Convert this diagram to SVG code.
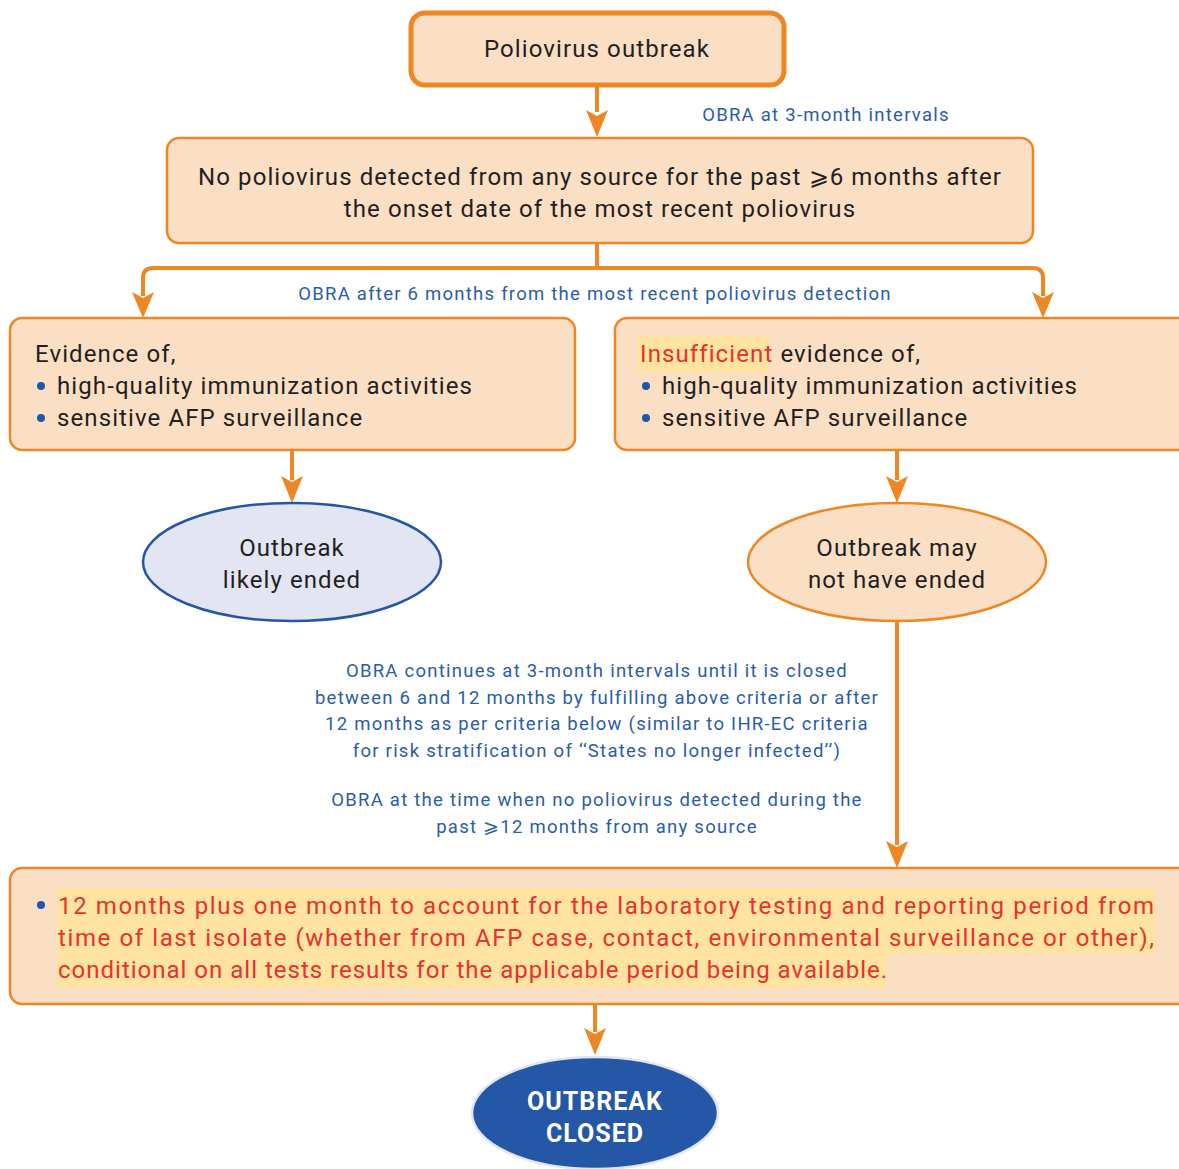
<svg xmlns="http://www.w3.org/2000/svg" width="1179" height="1169" viewBox="0 0 1179 1169">
<defs>
<style>
.box{fill:#FBDFC5;stroke:#EE8623;stroke-width:2.5}
.t{font-family:Roboto,"Liberation Sans",sans-serif;font-size:24px;fill:#231F20;letter-spacing:1.1px}
.tc{text-anchor:middle}
.b{font-family:Roboto,"Liberation Sans",sans-serif;font-size:18.5px;fill:#2A5CAA;letter-spacing:1.25px}
.r{font-family:Roboto,"Liberation Sans",sans-serif;font-size:24px;fill:#E8312F;letter-spacing:1px}
.dot{fill:#2457A5}
.ln{fill:none;stroke:#EE8623;stroke-width:4}
.hl{fill:#FFE3A1}
</style>
</defs>
<rect width="1179" height="1169" fill="#fff"/>
<g id="connectors">
<path class="ln" d="M597,86 V112" />
<path d="M586,110 L597,137 L608,110 L597,116 z" fill="#EE8623"/>
<path class="ln" d="M597,243 V268 M153,268 H1033 Q1043,268 1043,278 V296 M153,268 Q143,268 143,278 V296"/>
<path d="M132,292 L143,318 L154,292 L143,298 z" fill="#EE8623"/>
<path d="M1032,292 L1043,318 L1054,292 L1043,298 z" fill="#EE8623"/>
<path class="ln" d="M292,450 V480"/>
<path d="M281,476 L292,503 L303,476 L292,482 z" fill="#EE8623"/>
<path class="ln" d="M897,450 V480"/>
<path d="M886,476 L897,503 L908,476 L897,482 z" fill="#EE8623"/>
<path class="ln" d="M897,621 V845"/>
<path d="M886,841 L897,868 L908,841 L897,847 z" fill="#EE8623"/>
<path class="ln" d="M595,1004 V1032"/>
<path d="M584,1028 L595,1055 L606,1028 L595,1034 z" fill="#EE8623"/>
</g>
<g id="start">
<rect x="411" y="13" width="373" height="72" rx="14" class="box" style="stroke-width:5"/>
<text x="597" y="57" class="t tc">Poliovirus outbreak</text>
</g>
<text x="826" y="121" class="b tc">OBRA at 3-month intervals</text>
<g id="no-detect">
<rect x="167" y="138" width="866" height="105" rx="12" class="box"/>
<text x="600" y="185" class="t tc">No poliovirus detected from any source for the past ⩾6 months after</text>
<text x="600" y="217" class="t tc">the onset date of the most recent poliovirus</text>
</g>
<text x="595" y="300" class="b tc">OBRA after 6 months from the most recent poliovirus detection</text>
<g id="evidence">
<rect x="10" y="318" width="565" height="132" rx="12" class="box"/>
<text x="35" y="362" class="t">Evidence of,</text>
<circle cx="41" cy="386" r="4" class="dot"/>
<text x="57" y="394" class="t">high-quality immunization activities</text>
<circle cx="41" cy="418" r="4" class="dot"/>
<text x="57" y="426" class="t">sensitive AFP surveillance</text>
</g>
<g id="insufficient">
<rect x="615" y="318" width="575" height="132" rx="12" class="box"/>
<rect x="637" y="336" width="131" height="36" class="hl"/>
<text x="640" y="362" class="t"><tspan fill="#E8312F">Insufficient</tspan> evidence of,</text>
<circle cx="646" cy="386" r="4" class="dot"/>
<text x="662" y="394" class="t">high-quality immunization activities</text>
<circle cx="646" cy="418" r="4" class="dot"/>
<text x="662" y="426" class="t">sensitive AFP surveillance</text>
</g>
<g id="likely-ended">
<ellipse cx="292" cy="562" rx="149" ry="59" fill="#E3E5F2" stroke="#2456A6" stroke-width="2.5"/>
<text x="292" y="556" class="t tc">Outbreak</text>
<text x="292" y="588" class="t tc">likely ended</text>
</g>
<g id="not-ended">
<ellipse cx="897" cy="562" rx="149" ry="59" fill="#FBDFC5" stroke="#EE8623" stroke-width="2.5"/>
<text x="897" y="556" class="t tc">Outbreak may</text>
<text x="897" y="588" class="t tc">not have ended</text>
</g>
<g id="note">
<text x="597" y="677" class="b tc">OBRA continues at 3-month intervals until it is closed</text>
<text x="597" y="704" class="b tc">between 6 and 12 months by fulfilling above criteria or after</text>
<text x="597" y="730" class="b tc">12 months as per criteria below (similar to IHR-EC criteria</text>
<text x="597" y="757" class="b tc">for risk stratification of ‘‘States no longer infected’’)</text>
<text x="597" y="806" class="b tc">OBRA at the time when no poliovirus detected during the</text>
<text x="597" y="833" class="b tc">past ⩾12 months from any source</text>
</g>
<g id="criteria">
<rect x="10" y="868" width="1180" height="136" rx="12" class="box"/>
<path d="M57,888 H1155 V954 H887 V988 H57 z" class="hl"/>
<circle cx="41" cy="905" r="4" class="dot"/>
<text x="58" y="914" class="r" textLength="1097" lengthAdjust="spacing">12 months plus one month to account for the laboratory testing and reporting period from</text>
<text x="58" y="946" class="r" textLength="1097" lengthAdjust="spacing">time of last isolate (whether from AFP case, contact, environmental surveillance or other),</text>
<text x="58" y="978" class="r">conditional on all tests results for the applicable period being available.</text>
</g>
<g id="closed">
<ellipse cx="595" cy="1113" rx="123" ry="56" fill="#2457A5" stroke="#E3E5F2" stroke-width="2.5"/>
<text x="595" y="1110" class="t tc" style="fill:#fff;font-weight:bold;font-size:25px;letter-spacing:1px">OUTBREAK</text>
<text x="595" y="1142" class="t tc" style="fill:#fff;font-weight:bold;font-size:25px;letter-spacing:1px">CLOSED</text>
</g>
</svg>
